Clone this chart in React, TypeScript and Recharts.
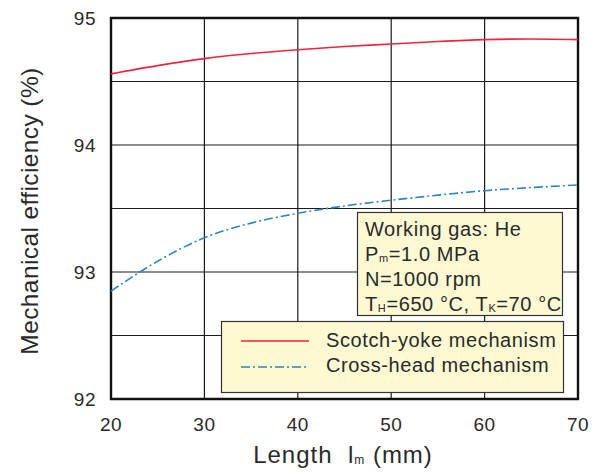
import React from 'react';
import { LineChart, Line, XAxis, YAxis, CartesianGrid, ReferenceArea } from 'recharts';

const lengths = [20, 25, 30, 35, 40, 45, 50, 55, 60, 65, 70];
const scotchYoke = [94.56, 94.625, 94.68, 94.72, 94.75, 94.775, 94.795, 94.815, 94.83, 94.835, 94.83];
const crossHead = [92.85, 93.085, 93.27, 93.385, 93.462, 93.52, 93.565, 93.605, 93.64, 93.665, 93.685];
const xTicks = [20, 30, 40, 50, 60, 70];
const yTicks = [92, 92.5, 93, 93.5, 94, 94.5, 95];
const seriesNames = ['Scotch-yoke mechanism', 'Cross-head mechanism'];

const data = lengths.map((l, i) => ({ l, sy: scotchYoke[i], ch: crossHead[i] }));

const FONT = 'Liberation Sans, Arial, sans-serif';
const TXT = '#2a2a2a';
const RED = '#f0233f';
const BLUE = '#2f86bf';
const BOXFILL = '#fcf9d3';

const txt = { fontFamily: FONT, fill: TXT, fontSize: 20, letterSpacing: 0.6 } as const;

export default function App() {
  return (
    <div style={{ position: 'absolute', left: 0, top: 0, width: 596, height: 472, background: '#fff' }}>
      <LineChart width={596} height={472} data={data} margin={{ top: 18, right: 18, left: 0, bottom: 0 }}>
        <CartesianGrid stroke="#1a1a1a" strokeWidth={1.2} horizontalValues={yTicks} verticalValues={xTicks} />
        <XAxis
          dataKey="l"
          type="number"
          domain={[20, 70]}
          ticks={xTicks}
          axisLine={false}
          tickLine={false}
          height={73}
          tick={{ fontSize: 19, fontFamily: FONT, fill: TXT, letterSpacing: 0.5 }}
          tickMargin={13}
        />
        <YAxis
          type="number"
          domain={[92, 95]}
          ticks={yTicks}
          interval={0}
          axisLine={false}
          tickLine={false}
          width={111}
          tickFormatter={(v: number) => (Number.isInteger(v) ? String(v) : '')}
          tick={{ fontSize: 19, fontFamily: FONT, fill: TXT, letterSpacing: 0.5 }}
          tickMargin={9}
        />
        <ReferenceArea x1={20} x2={70} y1={92} y2={95} fill="none" stroke="#111" strokeWidth={2.4} ifOverflow="visible" />
        <Line dataKey="sy" name={seriesNames[0]} stroke={RED} strokeWidth={1.6} dot={false} type="monotone" isAnimationActive={false} />
        <Line dataKey="ch" name={seriesNames[1]} stroke={BLUE} strokeWidth={1.6} dot={false} type="monotone" strokeDasharray="9 3 2 3" isAnimationActive={false} />
      </LineChart>
      <svg width={596} height={472} style={{ position: 'absolute', left: 0, top: 0, pointerEvents: 'none' }}>
        <rect x={357.5} y={212.5} width={205} height={103} fill={BOXFILL} stroke="#333" strokeWidth={1.2} />
        <text x={365} y={236} {...txt}>Working gas: He</text>
        <text x={365} y={261} {...txt}>
          P<tspan fontSize={11} dy={1}>m</tspan><tspan dy={-1}>=1.0 MPa</tspan>
        </text>
        <text x={365} y={286} {...txt}>N=1000 rpm</text>
        <text x={365} y={311} {...txt}>
          T<tspan fontSize={11} dy={1}>H</tspan><tspan dy={-1}>=650 °C, T</tspan><tspan fontSize={11} dy={1}>K</tspan><tspan dy={-1}>=70 °C</tspan>
        </text>

        <rect x={221.5} y={321.5} width={342} height={71} fill={BOXFILL} stroke="#333" strokeWidth={1.2} />
        <line x1={241} x2={309} y1={341} y2={341} stroke={RED} strokeWidth={1.6} />
        <line x1={241} x2={309} y1={367} y2={367} stroke={BLUE} strokeWidth={1.6} strokeDasharray="9 3 2 3" />
        <text x={326} y={347} {...txt}>{seriesNames[0]}</text>
        <text x={326} y={372} {...txt}>{seriesNames[1]}</text>

        <text x={343} y={463} fontSize={24} fontFamily={FONT} fill={TXT} letterSpacing={1} textAnchor="middle">
          {'Length\u00a0\u00a0l'}<tspan fontSize={12} dy={1}>m</tspan><tspan dy={-1}>{'\u00a0(mm)'}</tspan>
        </text>
        <text x={0} y={0} fontSize={24.5} fontFamily={FONT} fill={TXT} letterSpacing={0.4} textAnchor="middle" transform="translate(38,211) rotate(-90)">
          Mechanical efficiency (%)
        </text>
      </svg>
    </div>
  );
}
